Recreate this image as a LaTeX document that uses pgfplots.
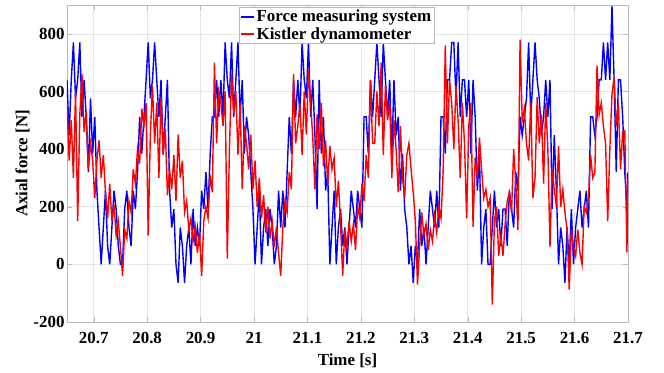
\documentclass[border=0pt]{standalone}
\usepackage{fontspec}
\setmainfont{Liberation Serif}
\usepackage{pgfplots}
\usepackage{pgfplotstable}
\pgfplotsset{compat=1.18}
\pgfplotstableread{
t b r
20.650 640 560
20.654 448 360
20.658 640 500
20.662 770 300
20.666 576 600
20.670 640 150
20.674 770 520
20.678 512 660
20.682 640 460
20.686 512 530
20.690 320 330
20.694 576 420
20.698 384 360
20.702 512 230
20.706 256 360
20.710 128 430
20.714 0 300
20.718 128 380
20.722 256 250
20.726 64 160
20.730 0 280
20.734 128 150
20.738 256 210
20.742 192 100
20.746 64 150
20.750 0 60
20.754 0 -40
20.758 192 120
20.762 256 90
20.766 128 220
20.770 64 180
20.774 256 330
20.778 192 280
20.782 320 400
20.786 512 350
20.790 384 540
20.794 512 480
20.798 640 560
20.802 770 100
20.806 576 450
20.810 640 620
20.814 770 420
20.818 640 560
20.822 512 300
20.826 640 580
20.830 384 380
20.834 512 470
20.838 640 240
20.842 256 330
20.846 128 260
20.850 192 380
20.854 0 220
20.858 -64 450
20.862 128 300
20.866 64 360
20.870 -64 180
20.874 64 220
20.878 128 120
20.882 0 160
20.886 192 80
20.890 64 130
20.894 128 40
20.898 64 110
20.902 256 -40
20.906 192 150
20.910 320 200
20.914 192 160
20.918 384 310
20.922 512 250
20.926 512 700
20.930 640 420
20.934 512 600
20.938 640 560
20.942 512 480
20.946 770 600
20.950 640 20
20.954 576 400
20.958 770 660
20.962 512 520
20.966 640 600
20.970 770 380
20.974 512 560
20.978 640 260
20.982 384 480
20.986 512 420
20.990 448 330
20.994 320 450
20.998 192 260
21.002 0 360
21.006 128 200
21.010 256 300
21.014 0 160
21.018 128 240
21.022 192 110
21.026 64 200
21.030 192 90
21.034 128 150
21.038 0 60
21.042 64 130
21.046 256 40
21.050 128 -40
21.054 256 130
21.058 128 220
21.062 320 180
21.066 512 320
21.070 384 260
21.074 640 660
21.078 512 420
21.082 640 480
21.086 512 560
21.090 770 380
21.094 640 600
21.098 576 450
21.102 770 680
21.106 512 560
21.110 640 440
21.114 448 260
21.118 192 520
21.122 640 400
21.126 384 560
21.130 512 340
21.134 256 430
21.138 320 280
21.142 0 410
21.146 128 330
21.150 256 370
21.154 0 200
21.158 128 290
21.162 192 140
21.166 64 -40
21.170 128 120
21.174 0 60
21.178 128 150
21.182 256 80
21.186 192 140
21.190 128 50
21.194 256 200
21.198 192 160
21.202 128 280
21.206 512 220
21.210 512 380
21.214 384 300
21.218 640 640
21.222 512 420
21.226 640 420
21.230 770 600
21.234 640 480
21.238 512 700
21.242 770 380
21.246 640 620
21.250 512 500
21.254 640 560
21.258 384 300
21.262 640 500
21.266 448 400
21.270 512 250
21.274 256 480
21.278 384 300
21.282 192 230
21.286 128 380
21.290 0 420
21.294 64 330
21.298 -64 250
21.302 64 150
21.306 0 -70
21.310 192 60
21.314 64 180
21.318 128 100
21.322 0 140
21.326 128 50
21.330 256 120
21.334 192 80
21.338 128 170
21.342 256 110
21.346 128 200
21.350 512 160
21.354 512 320
21.358 384 760
21.362 640 420
21.366 640 640
21.370 770 560
21.374 770 400
21.378 576 620
21.382 770 500
21.386 512 300
21.390 640 560
21.394 640 420
21.398 512 160
21.402 640 480
21.406 384 560
21.410 640 130
21.414 512 370
21.418 256 300
21.422 384 440
21.426 0 330
21.430 128 230
21.434 192 260
21.438 0 200
21.442 0 230
21.446 128 -140
21.450 256 150
21.454 128 200
21.458 192 30
21.462 64 100
21.466 192 30
21.470 192 140
21.474 64 220
21.478 256 250
21.482 192 180
21.486 128 400
21.490 320 280
21.494 256 120
21.498 512 780
21.502 448 500
21.506 512 540
21.510 576 420
21.514 770 360
21.518 512 560
21.522 640 230
21.526 770 300
21.530 640 580
21.534 576 420
21.538 448 520
21.542 512 280
21.546 640 560
21.550 512 400
21.554 640 60
21.558 192 330
21.562 448 260
21.566 256 200
21.570 0 410
21.574 128 200
21.578 64 260
21.582 -64 180
21.586 128 120
21.590 0 -88
21.594 192 120
21.598 0 60
21.602 128 30
21.606 192 120
21.610 256 40
21.614 128 0
21.618 192 200
21.622 256 180
21.626 128 230
21.630 512 380
21.634 512 300
21.638 448 320
21.642 512 690
21.646 640 520
21.650 640 560
21.654 770 480
21.658 640 420
21.662 770 150
21.666 640 400
21.670 896 590
21.674 640 650
21.678 320 480
21.682 640 560
21.686 640 330
21.690 512 460
21.694 320 463
21.698 192 42
21.700 320 298
}\data

\begin{document}
\begin{tikzpicture}
\begin{axis}[
 scale only axis, width=561bp, height=317bp,
 xmin=20.65, xmax=21.7, ymin=-200, ymax=900,
 xtick={20.7,20.8,20.9,21,21.1,21.2,21.3,21.4,21.5,21.6,21.7},
 xticklabels={20.7,20.8,20.9,21,21.1,21.2,21.3,21.4,21.5,21.6,21.7},
 ytick={-200,0,200,400,600,800},
 yticklabels={-200,0,200,400,600,800},
 grid=major, major grid style={gray!20, line width=0.5bp},
 axis line style={gray!55, line width=0.6bp},
 tick align=inside, major tick length=5bp, tick style={gray!55},
 tick label style={font=\bfseries\fontsize{17}{19}\selectfont, black},
 xticklabel style={yshift=-7bp},
 yticklabel style={xshift=1bp},
 xlabel={Time [s]}, ylabel={Axial force [N]},
 label style={font=\bfseries\fontsize{17}{19}\selectfont},
 xlabel style={yshift=-3bp},
 ylabel style={yshift=-3bp},
 legend style={at={(0.3066,0.9937)}, anchor=north west, draw=gray!55,
   font=\bfseries\fontsize{17}{19}\selectfont, inner xsep=1bp, inner ysep=1bp,
   row sep=0bp, cells={anchor=west}},
 legend image code/.code={\draw[#1] (0bp,0bp) -- (13bp,0bp);},
]
\addplot[blue, line width=1.4bp] table[x=t,y=b]{\data};
\addlegendentry{Force measuring system}
\addplot[red, line width=1.4bp] table[x=t,y=r]{\data};
\addlegendentry{Kistler dynamometer}
\end{axis}
\path ([xshift=-67bp,yshift=-51bp]current axis.south west) rectangle ([xshift=36bp,yshift=5bp]current axis.north east);
\end{tikzpicture}
\end{document}
